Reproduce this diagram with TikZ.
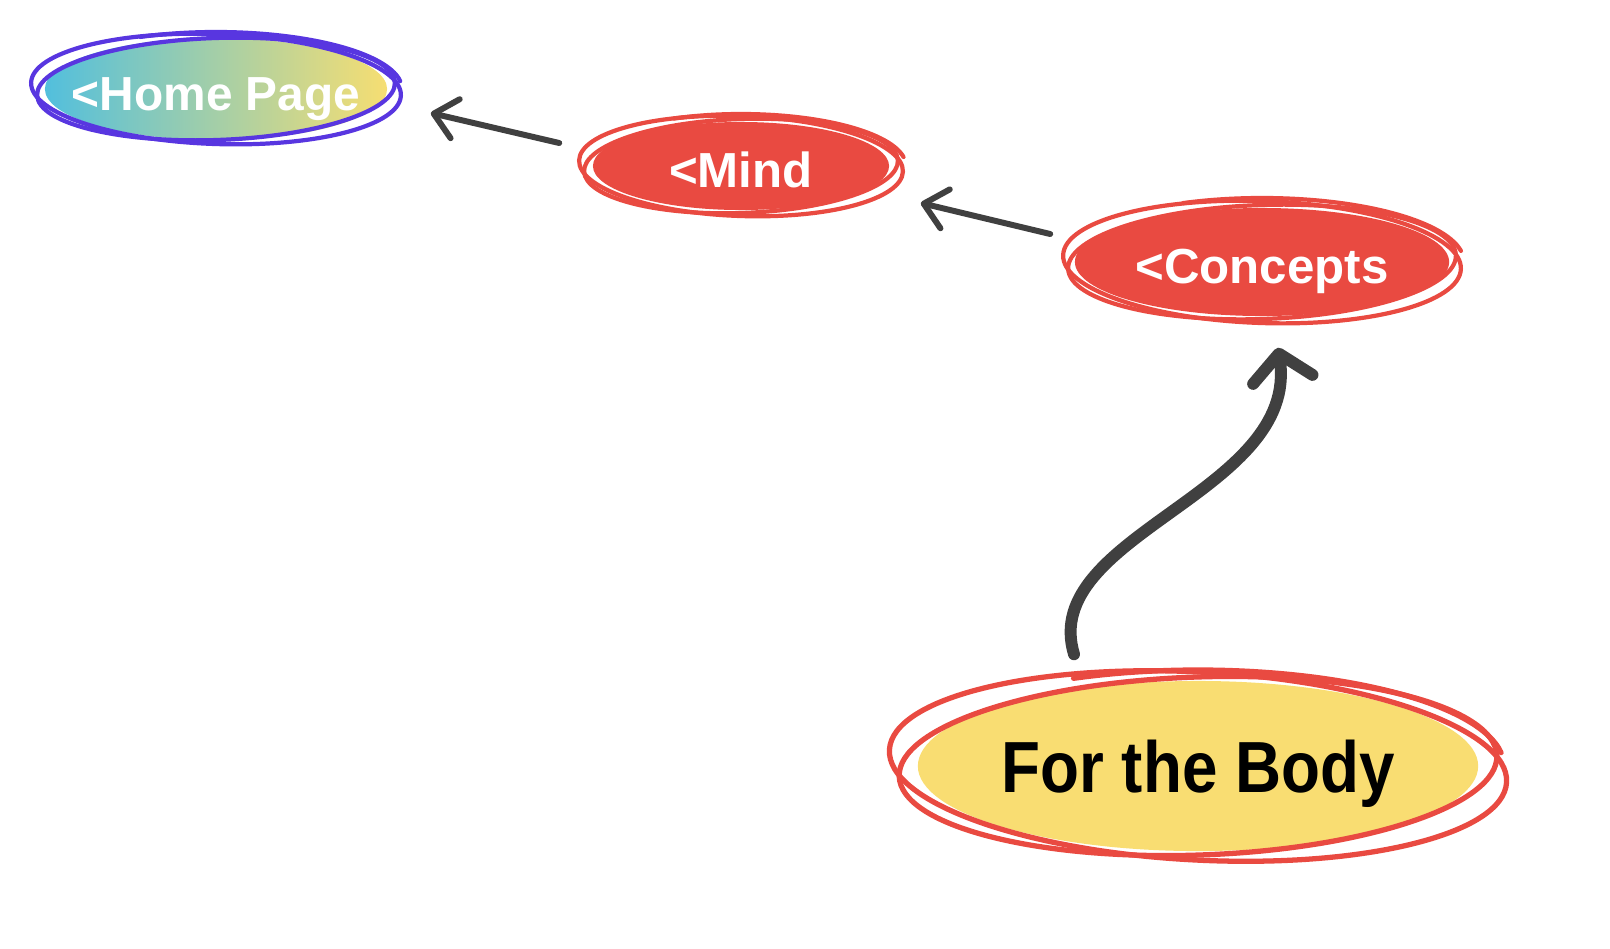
\documentclass[tikz,border=0pt]{standalone}
\usepackage{fontspec}
\setmainfont{Liberation Sans}
\newfontfamily\bodyfont[FakeStretch=0.88]{Liberation Sans}
\usetikzlibrary{arrows.meta, calc, shapes.geometric}

\definecolor{tagred}{HTML}{E94A41}
\definecolor{tagpurple}{HTML}{5836E0}
\definecolor{homecyan}{HTML}{52BFDD}
\definecolor{homeyellow}{HTML}{F6DE72}
\definecolor{bodyyellow}{HTML}{F9DD72}
\definecolor{arrowgray}{HTML}{404040}

\tikzset{
	tag/.style={ellipse, inner sep=0pt, text height=0.42cm, text depth=0pt, text=white,
			font=\bfseries\fontsize{14}{16}\selectfont},
	scribble/.style={line width=1.2pt, line cap=round},
	link/.style={draw=arrowgray, line width=1.7pt, line cap=round,
			-{Straight Barb[length=0.22cm, width=0.4cm, round]}},
}

\begin{document}
\begin{tikzpicture}[x=0.01cm, y=-0.01cm]

		\useasboundingbox (0,0) rectangle (1610,948);

		\node[tag, left color=homecyan, right color=homeyellow, minimum width=3.42cm, minimum height=1.02cm,
			font=\bfseries\fontsize{13.6}{16}\selectfont] (home) at (216,89) {\makebox[0pt]{<Home Page}};
		\node[tag, fill=tagred, minimum width=2.96cm, minimum height=0.88cm] (mind) at (741,166) {\makebox[0pt]{<Mind}};
		\node[tag, fill=tagred, minimum width=3.74cm, minimum height=1.08cm] (concepts) at (1262,262) {\makebox[0pt]{<Concepts}};
		\node[ellipse, inner sep=0pt, text depth=0pt, fill=bodyyellow, minimum width=5.6cm, minimum height=1.7cm,
			font=\bodyfont\bfseries\fontsize{20.6}{24}\selectfont] (body) at (1198,766) {\makebox[0pt]{For the Body}};

		% scribbled outlines round each tag
		\foreach \rx/\ry/\rot in {185/55/-2, 179/51/2}
			\draw[scribble, tagpurple, rotate around={\rot:(home.center)}] (home.center) ellipse ({\rx} and {\ry});
		\draw[scribble, tagpurple] ([shift={(246:186 and 57)}]home.center) arc[start angle=246, end angle=352, x radius=186, y radius=57];

		\foreach \rx/\ry/\rot in {162/50/-2, 157/47/2}
			\draw[scribble, tagred, rotate around={\rot:(mind.center)}] (mind.center) ellipse ({\rx} and {\ry});
		\draw[scribble, tagred] ([shift={(246:165 and 52)}]mind.center) arc[start angle=246, end angle=350, x radius=165, y radius=52];

		\foreach \rx/\ry/\rot in {199/61/-2, 194/57/2}
			\draw[scribble, tagred, rotate around={\rot:(concepts.center)}] (concepts.center) ellipse ({\rx} and {\ry});
		\draw[scribble, tagred] ([shift={(247:202 and 64)}]concepts.center) arc[start angle=247, end angle=350, x radius=202, y radius=64];

		\foreach \rx/\ry/\rot in {309/94/-3, 299/89/2}
			\draw[scribble, line width=1.5pt, tagred, rotate around={\rot:(body.center)}] (body.center) ellipse ({\rx} and {\ry});
		\draw[scribble, line width=1.5pt, tagred] ([shift={(246:306 and 96)}]body.center) arc[start angle=246, end angle=352, x radius=306, y radius=96];

		% links back up
		\draw[link] ($(mind.west)+(-33,-23)$) -- ($(home.east)+(43,24)$);
		\draw[link] ($(concepts.west)+(-24,-28)$) -- ($(mind.east)+(31,37)$);
		\draw[link, line width=3.4pt, -{Straight Barb[length=0.26cm, width=0.6cm, round]}]
			($(body.north)+(-124,-26)$) .. controls (1038,535) and (1300,493) .. ($(concepts.south)+(16,31)$);

	\end{tikzpicture}
\end{document}
